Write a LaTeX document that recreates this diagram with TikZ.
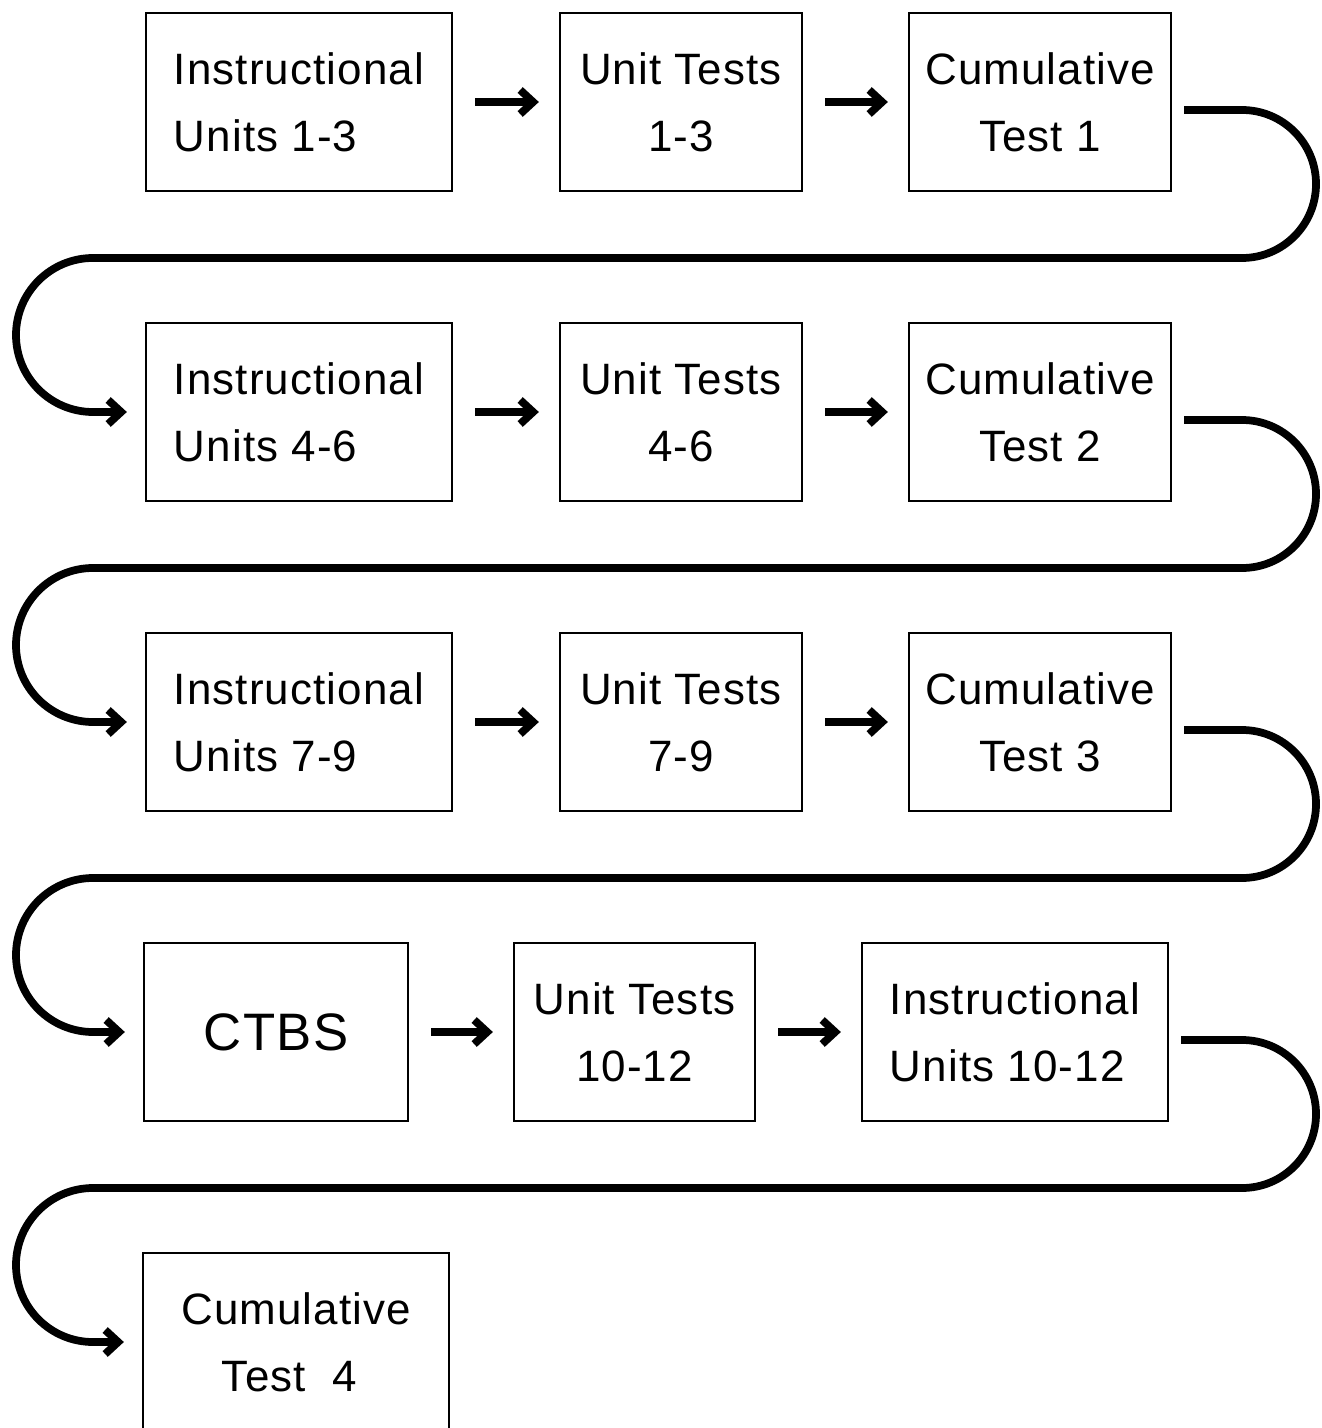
\documentclass[tikz,border=0pt]{standalone}
\usepackage{fontspec}
\setmainfont{Liberation Sans}[LetterSpace=2.5]
\usetikzlibrary{arrows.meta,calc}

\tikzset{
  stepbox/.style={draw, line width=1.3pt, minimum height=3.56cm, inner sep=0pt,
    font=\fontsize{25}{38}\selectfont},
  flow/.style={line width=4.4pt, -{Straight Barb[length=2.6mm,width=4.8mm]},
    shorten <=0.44cm, shorten >=0.4cm},
  backline/.style={line width=4.4pt, -{Straight Barb[length=2.6mm,width=4.8mm]},
    line join=round}
}

\begin{document}
\begin{tikzpicture}
    \useasboundingbox (0,0) rectangle (26.42,-28.56);
    \def \dy {6.2} % distance between the rows
    \def \top {-2.04}
    % the three rows that look alike
    \foreach \r/\u in {1/1-3, 2/4-6, 3/7-9}
    {
      \node[stepbox, minimum width=6.12cm, align=left] (inst\r)
        at (5.98,{\top-\dy*(\r-1)}) {Instructional\\Units \u};
      \node[stepbox, minimum width=4.84cm, align=center] (unit\r)
        at (13.62,{\top-\dy*(\r-1)}) {Unit Tests\\\u};
      \node[stepbox, minimum width=5.24cm, align=center] (cum\r)
        at (20.8,{\top-\dy*(\r-1)}) {Cumulative\\Test \r};
      \draw[flow] (inst\r) -- (unit\r);
      \draw[flow] (unit\r) -- (cum\r);
    }
    % fourth and last row
    \node[stepbox, minimum width=5.28cm, font=\fontsize{30}{36}\selectfont] (ctbs)
      at (5.52,{\top-3*\dy}) {CTBS};
    \node[stepbox, minimum width=4.82cm, align=center] (unit4)
      at (12.69,{\top-3*\dy}) {Unit Tests\\10-12};
    \node[stepbox, minimum width=6.12cm, align=left] (inst4)
      at (20.3,{\top-3*\dy}) {Instructional\\Units 10-12};
    \draw[flow] (ctbs) -- (unit4);
    \draw[flow] (unit4) -- (inst4);
    \node[stepbox, minimum width=6.12cm, align=center] (cum4)
      at (5.92,{\top-4*\dy}) {Cumulative\\Test\ \ 4\ \ };
    % lines back to the start of the next row
    \foreach \from/\to in {cum1/inst2, cum2/inst3, cum3/ctbs, inst4/cum4}
    {
      \draw[backline] let \p1 = (\from.east) in
        (\x1+0.24cm,\y1-0.16cm) -- (24.84cm,\y1-0.16cm)
        arc[start angle=90, end angle=-90, radius=1.48cm]
        -- (1.86cm,\y1-3.12cm)
        arc[start angle=90, end angle=270, radius=1.54cm]
        -- ([xshift=-0.36cm]\to.west);
    }
\end{tikzpicture}
\end{document}
